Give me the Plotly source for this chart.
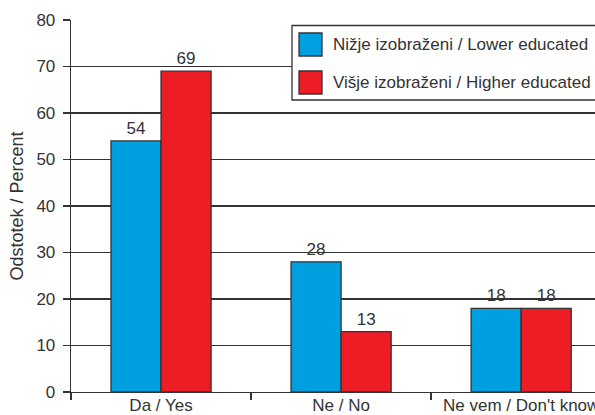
import plotly.graph_objects as go

categories = ["Da / Yes", "Ne / No", "Ne vem / Don't know"]
lower = [54, 28, 18]
higher = [69, 13, 18]
series_names = ["Nižje izobraženi / Lower educated", "Višje izobraženi / Higher educated"]
colors = ["#009FE0", "#EE1D25"]
y_ticks = [0, 10, 20, 30, 40, 50, 60, 70, 80]

FAM = "Liberation Sans, Arial, Helvetica, sans-serif"
DARK = "#333333"
font = dict(family=FAM, size=17, color=DARK)

W, H = 595, 415
L, R, T, B = 71, 0, 20, 23
PW, PH = W - L - R, H - T - B


def px_to_paper(x, y):
    return (x - L) / PW, (H - B - y) / PH


fig = go.Figure()
for vals, name, col in [(lower, series_names[0], colors[0]), (higher, series_names[1], colors[1])]:
    fig.add_trace(go.Bar(x=categories, y=vals, name=name,
                         marker=dict(color=col, line=dict(color=DARK, width=1.3)),
                         text=[str(v) for v in vals], textposition="outside",
                         textfont=font, cliponaxis=False, showlegend=False))

# manual legend (box + swatches + labels), positioned in paper space
shapes = []
annotations = []
bx0, by0 = px_to_paper(292, 25.5)
bx1, by1 = px_to_paper(640, 100)
shapes.append(dict(type="rect", xref="paper", yref="paper", x0=bx0, y0=by1, x1=bx1, y1=by0,
                   line=dict(color=DARK, width=1.3), fillcolor="white", layer="above"))
for i, (name, col) in enumerate(zip(series_names, colors)):
    top = 33 + i * 38
    sx0, sy0 = px_to_paper(299, top)
    sx1, sy1 = px_to_paper(322, top + 23)
    shapes.append(dict(type="rect", xref="paper", yref="paper", x0=sx0, y0=sy1, x1=sx1, y1=sy0,
                       line=dict(color=DARK, width=1.3), fillcolor=col, layer="above"))
    tx, ty = px_to_paper(331, top + 11.5)
    annotations.append(dict(xref="paper", yref="paper", x=tx, y=ty, xanchor="left", yanchor="middle",
                            text=name, showarrow=False, font=font))

fig.update_layout(
    width=W, height=H,
    margin=dict(l=L, r=R, t=T, b=B, autoexpand=False),
    paper_bgcolor="white", plot_bgcolor="white",
    barmode="group", bargap=0.444, bargroupgap=0,
    font=font,
    showlegend=False,
    shapes=shapes, annotations=annotations,
    xaxis=dict(range=[-0.5, 2.41], showline=True, linecolor=DARK, linewidth=1.3,
               ticks="outside", tickson="boundaries", ticklen=7, tickcolor=DARK, tickwidth=1.3,
               ticklabelstandoff=-3,
               showgrid=False, tickfont=font, fixedrange=True, automargin=False),
    yaxis=dict(range=[0, 80], tickvals=y_ticks, showline=True, linecolor=DARK, linewidth=1.3,
               ticks="outside", ticklen=7, tickcolor=DARK, tickwidth=1.3, ticklabelstandoff=4,
               showgrid=True, gridcolor=DARK, gridwidth=1.3, zeroline=False, automargin=False,
               fixedrange=True,
               tickfont=font, title=dict(text="Odstotek / Percent", font=dict(family=FAM, size=18, color=DARK), standoff=8)),
)

fig.write_html("out.html", config={"displayModeBar": False, "staticPlot": True},
               post_script="document.body.style.margin='0';document.body.style.padding='0';")
